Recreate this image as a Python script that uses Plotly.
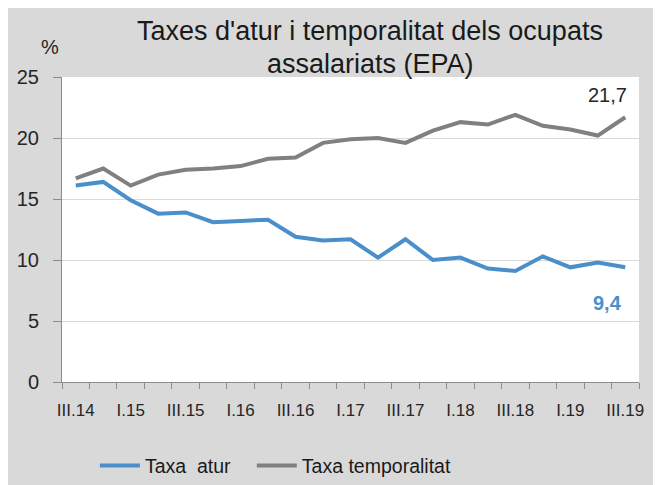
import plotly.graph_objects as go

quarters = ["III.14", "IV.14", "I.15", "II.15", "III.15", "IV.15", "I.16", "II.16",
            "III.16", "IV.16", "I.17", "II.17", "III.17", "IV.17", "I.18", "II.18",
            "III.18", "IV.18", "I.19", "II.19", "III.19"]
taxa_atur = [16.1, 16.4, 14.9, 13.8, 13.9, 13.1, 13.2, 13.3, 11.9, 11.6, 11.7,
             10.2, 11.7, 10.0, 10.2, 9.3, 9.1, 10.3, 9.4, 9.8, 9.4]
taxa_temporalitat = [16.7, 17.5, 16.1, 17.0, 17.4, 17.5, 17.7, 18.3, 18.4, 19.6, 19.9,
                     20.0, 19.6, 20.6, 21.3, 21.1, 21.9, 21.0, 20.7, 20.2, 21.7]
series_names = ["Taxa\u00a0\u00a0atur", "Taxa temporalitat"]
y_ticks = [0, 5, 10, 15, 20, 25]

BLUE = "#4a8fca"
GREY = "#808080"
BG = "#d9d9d9"
NARROW = "Liberation Sans Narrow, Arial Narrow, sans-serif"
TITLE_FONT = "Liberation Sans, Arial, sans-serif"

x = list(range(len(quarters)))
label_idx = x[::2]

fig = go.Figure()
fig.add_trace(go.Scatter(x=x, y=taxa_atur, mode="lines", name=series_names[0],
                         line=dict(color=BLUE, width=4), legend="legend"))
fig.add_trace(go.Scatter(x=x, y=taxa_temporalitat, mode="lines", name=series_names[1],
                         line=dict(color=GREY, width=4), legend="legend2"))

def fmt(v):
    return f"{v:.1f}".replace(".", ",")

annotations = [
    dict(x=x[-1], y=taxa_temporalitat[-1], xref="x", yref="y", text=fmt(taxa_temporalitat[-1]),
         showarrow=False, xshift=-18, yshift=22, font=dict(family=NARROW, size=20, color="#262626")),
    dict(x=x[-1], y=taxa_atur[-1], xref="x", yref="y", text="<b>" + fmt(taxa_atur[-1]) + "</b>",
         showarrow=False, xshift=-18, yshift=-36, font=dict(family=NARROW, size=20, color=BLUE)),
    dict(x=0.534, y=1.151, xref="paper", yref="paper", text="Taxes d'atur i temporalitat dels ocupats",
         showarrow=False, xanchor="center", yanchor="middle",
         font=dict(family=TITLE_FONT, size=27, color="#1a1a1a")),
    dict(x=0.534, y=1.042, xref="paper", yref="paper", text="assalariats (EPA)",
         showarrow=False, xanchor="center", yanchor="middle",
         font=dict(family=TITLE_FONT, size=27, color="#1a1a1a")),
    dict(x=-0.0208, y=1.098, xref="paper", yref="paper", text="%",
         showarrow=False, xanchor="center", yanchor="middle",
         font=dict(family=NARROW, size=20, color="#262626")),
]

legend_common = dict(orientation="h", xanchor="left", y=-0.275, yanchor="middle",
                     font=dict(family=NARROW, size=19.5, color="#1a1a1a"),
                     bgcolor="rgba(0,0,0,0)", itemwidth=40)

fig.update_layout(
    width=653, height=477,
    margin=dict(l=54, r=22, t=69, b=103, autoexpand=False),
    paper_bgcolor=BG, plot_bgcolor="white",
    showlegend=True,
    legend=dict(x=0.057, **legend_common),
    legend2=dict(x=0.329, **legend_common),
    annotations=annotations,
    xaxis=dict(range=[-0.5, len(quarters) - 0.5], tickmode="array", tickvals=label_idx,
               ticktext=[quarters[i] for i in label_idx], ticks="outside", ticklen=6,
               tickcolor="rgba(0,0,0,0)", showgrid=False, zeroline=False, automargin=False,
               showline=True, linecolor="#8c8c8c", linewidth=1,
               tickfont=dict(family=NARROW, size=17, color="#262626"),
               ticklabelstandoff=7,
               minor=dict(tickmode="array", tickvals=[i - 0.5 for i in range(len(quarters) + 1)],
                          ticks="outside", ticklen=6, tickcolor="#8c8c8c", showgrid=False)),
    yaxis=dict(range=[0, 25], tickmode="array", tickvals=y_ticks, ticks="outside", ticklen=8,
               tickcolor="#8c8c8c", showgrid=True, gridcolor="#d9d9d9", gridwidth=1,
               zeroline=False, showline=True, linecolor="#8c8c8c", linewidth=1, automargin=False,
               tickfont=dict(family=NARROW, size=20, color="#262626"), ticklabelstandoff=10),
)

fig.write_html("out.html")
